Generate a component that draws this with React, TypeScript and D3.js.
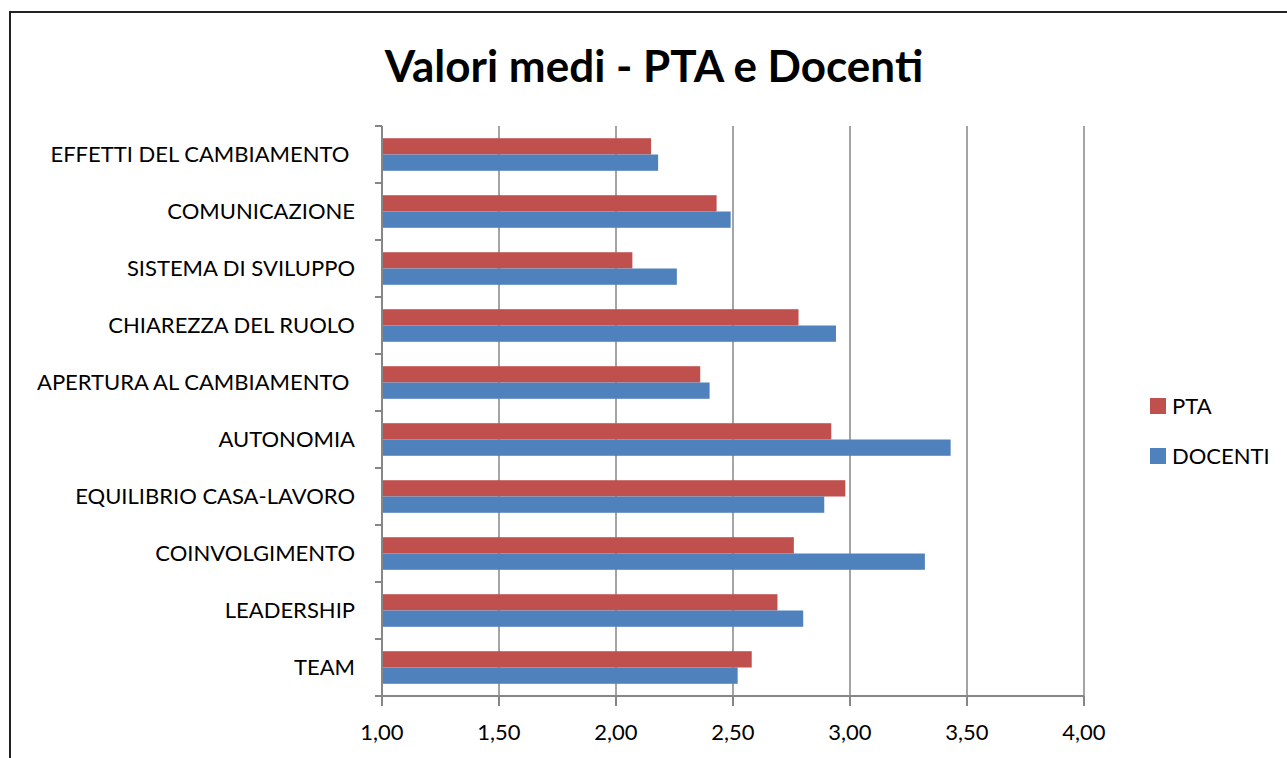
import React from "react";
import * as d3 from "d3";

// categories listed top to bottom, as in the picture
const categories = [
	"EFFETTI DEL CAMBIAMENTO ",
	"COMUNICAZIONE",
	"SISTEMA DI SVILUPPO",
	"CHIAREZZA DEL RUOLO",
	"APERTURA AL CAMBIAMENTO ",
	"AUTONOMIA",
	"EQUILIBRIO CASA-LAVORO",
	"COINVOLGIMENTO",
	"LEADERSHIP",
	"TEAM",
];
const ptaValues = [2.15, 2.43, 2.07, 2.78, 2.36, 2.92, 2.98, 2.76, 2.69, 2.58];
const docentiValues = [2.18, 2.49, 2.26, 2.94, 2.4, 3.43, 2.89, 3.32, 2.8, 2.52];
const xTicks = [1, 1.5, 2, 2.5, 3, 3.5, 4];
const seriesNames = ["PTA", "DOCENTI"];
const seriesColors = ["#C0504D", "#4F81BD"];

export default function App() {
	const width = 1287;
	const height = 758;
	const plotLeft = 382;
	const plotRight = 1084;
	const plotTop = 126;
	const plotBottom = 696;
	const font = "Lato, 'Open Sans', sans-serif";
	const gridColor = "#868686";

	const x = d3.scaleLinear().domain([1, 4]).range([plotLeft, plotRight]);

	const y = d3
		.scaleBand<string>()
		.domain(categories)
		.range([plotTop, plotBottom])
		.paddingInner(0)
		.paddingOuter(0);

	// two bars per band, 150% gap like Excel
	const inner = d3
		.scaleBand<string>()
		.domain(seriesNames)
		.range([0, y.bandwidth()])
		.paddingInner(0)
		.paddingOuter(0.75);

	const fmt = (v: number) => v.toFixed(2).replace(".", ",");
	const series = [ptaValues, docentiValues];

	return (
		<svg
			width={width}
			height={height}
			style={{ position: "absolute", left: 0, top: 0, background: "#fff" }}
		>
			{/* outer chart border */}
			<rect
				x={10}
				y={12}
				width={width + 20}
				height={height + 20}
				fill="#fff"
				stroke="#222"
				strokeWidth={2}
			/>

			<text
				x={654}
				y={82}
				textAnchor="middle"
				fontFamily={font}
				fontWeight="bold"
				fontSize={44}
				fill="#000"
			>
				Valori medi - PTA e Docenti
			</text>

			{/* vertical gridlines */}
			<g>
				{xTicks.slice(1).map((t) => (
					<line
						key={t}
						x1={x(t)}
						x2={x(t)}
						y1={plotTop}
						y2={plotBottom}
						stroke={gridColor}
						strokeWidth={1.5}
					/>
				))}
			</g>

			{/* bars */}
			{series.map((vals, si) => (
				<g key={si} fill={seriesColors[si]}>
					{categories.map((c, i) => (
						<rect
							key={c}
							x={x(1)}
							y={(y(c) || 0) + (inner(seriesNames[si]) || 0)}
							width={x(vals[i]) - x(1)}
							height={inner.bandwidth()}
						/>
					))}
				</g>
			))}

			{/* y axis */}
			<g>
				<line
					x1={plotLeft}
					x2={plotLeft}
					y1={plotTop}
					y2={plotBottom + 10}
					stroke={gridColor}
					strokeWidth={2}
				/>
				{categories.map((c) => (
					<line
						key={c}
						x1={plotLeft - 7}
						x2={plotLeft}
						y1={y(c) || 0}
						y2={y(c) || 0}
						stroke={gridColor}
						strokeWidth={2}
					/>
				))}
				{categories.map((c) => (
					<text
						key={c}
						x={355}
						y={(y(c) || 0) + y.bandwidth() / 2}
						dy="0.35em"
						textAnchor="end"
						fontFamily={font}
						fontSize={22}
						fill="#000"
						style={{ whiteSpace: "pre" }}
					>
						{c}
					</text>
				))}
			</g>

			{/* x axis */}
			<g>
				<line
					x1={plotLeft - 7}
					x2={plotRight}
					y1={plotBottom}
					y2={plotBottom}
					stroke={gridColor}
					strokeWidth={2}
				/>
				{xTicks.map((t) => (
					<line
						key={t}
						x1={x(t)}
						x2={x(t)}
						y1={plotBottom}
						y2={plotBottom + 10}
						stroke={gridColor}
						strokeWidth={2}
					/>
				))}
				{xTicks.map((t) => (
					<text
						key={t}
						x={x(t)}
						y={732}
						dy="0.35em"
						textAnchor="middle"
						fontFamily={font}
						fontSize={22}
						fill="#000"
					>
						{fmt(t)}
					</text>
				))}
			</g>

			{/* legend */}
			{seriesNames.map((s, i) => (
				<g key={s} transform={`translate(1150, ${398 + i * 50})`}>
					<rect width={16} height={16} fill={seriesColors[i]} />
					<text
						x={22}
						y={8}
						dy="0.35em"
						fontFamily={font}
						fontSize={22}
						fill="#000"
					>
						{s}
					</text>
				</g>
			))}
		</svg>
	);
}
